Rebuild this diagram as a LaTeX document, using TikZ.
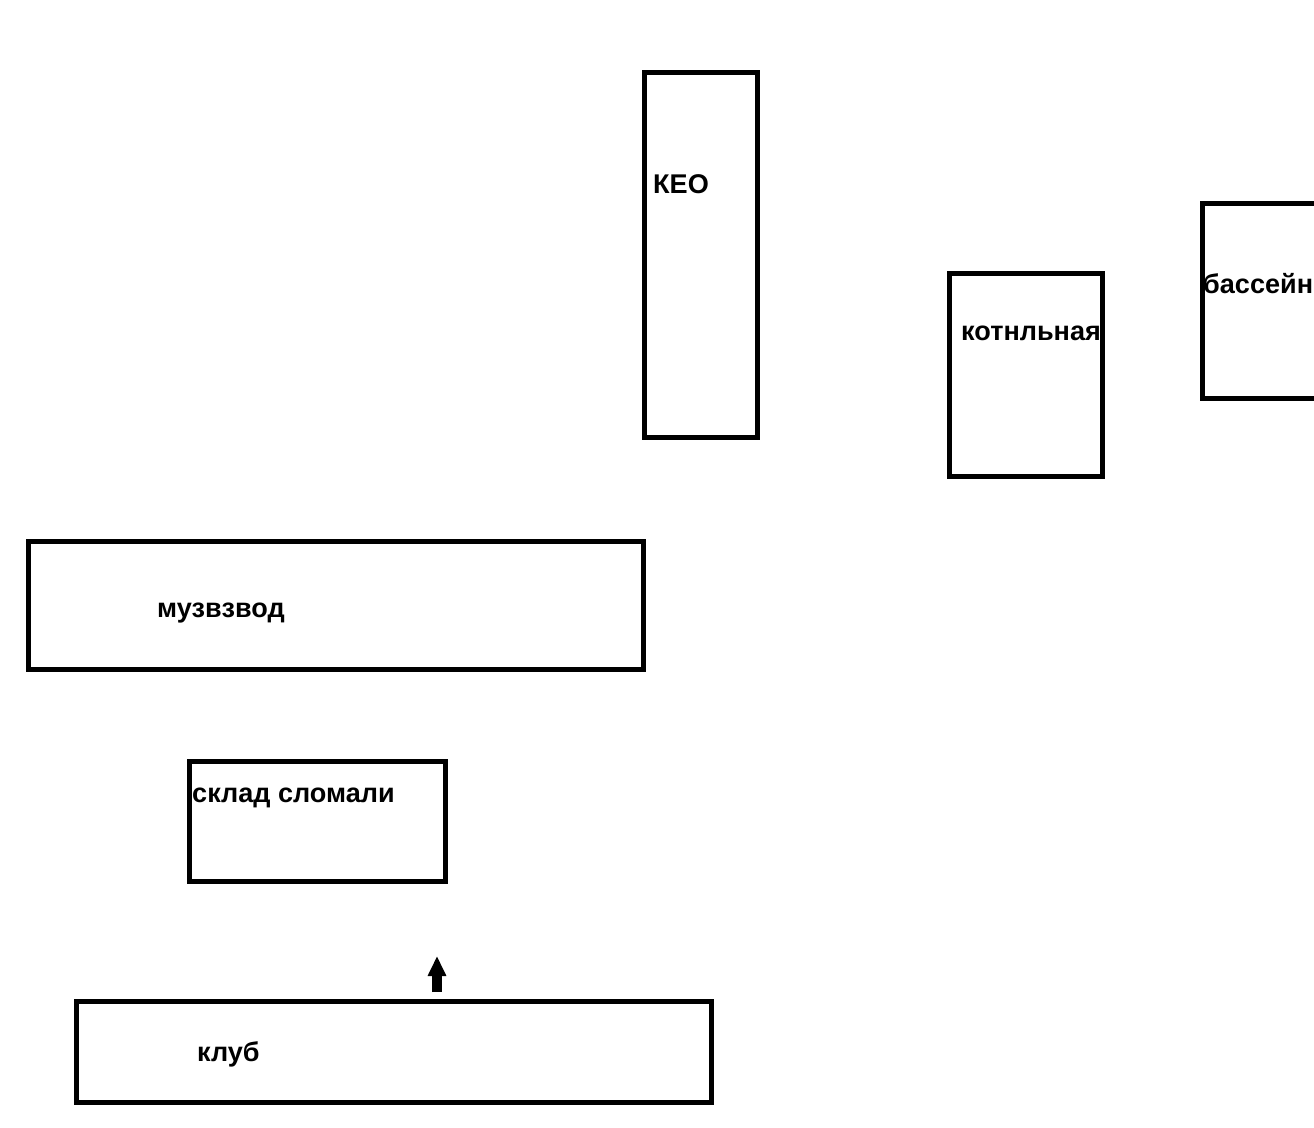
\documentclass[tikz,border=0pt]{standalone}
\usepackage{fontspec}
\setmainfont{Liberation Sans}
\usetikzlibrary{arrows.meta}

\tikzset{every picture/.style={line width=3.3pt}}
\tikzset{lbl/.style={anchor=west,inner sep=0.75pt,font=\bfseries\fontsize{20.3}{24}\selectfont}}

\begin{document}
\begin{tikzpicture}[x=0.75pt,y=0.75pt,yscale=-1,xscale=1]
\useasboundingbox (0,0) rectangle (1314,1128);
\clip (0,0) rectangle (1314,1128);

%Shape: Rectangle [id:keo]
\draw   (644.5,72.5) -- (757.5,72.5) -- (757.5,437.5) -- (644.5,437.5) -- cycle ;
%Shape: Rectangle [id:kotln]
\draw   (949.5,273.5) -- (1102.5,273.5) -- (1102.5,476.5) -- (949.5,476.5) -- cycle ;
%Shape: Rectangle [id:bass]
\draw   (1202.5,203.5) -- (1340,203.5) -- (1340,398.5) -- (1202.5,398.5) -- cycle ;
%Shape: Rectangle [id:muz]
\draw   (28.5,541.5) -- (643.5,541.5) -- (643.5,669.5) -- (28.5,669.5) -- cycle ;
%Shape: Rectangle [id:sklad]
\draw   (189.5,761.5) -- (445.5,761.5) -- (445.5,881.5) -- (189.5,881.5) -- cycle ;
%Shape: Rectangle [id:klub]
\draw   (76.5,1001.5) -- (711.5,1001.5) -- (711.5,1102.5) -- (76.5,1102.5) -- cycle ;

%Straight Lines [id:arr]
\coordinate (arrS) at (437,992);
\coordinate (arrE) at (437,956);
\draw [line width=7pt,-{Triangle[length=15pt,width=13pt]}]  (arrS) -- (arrE) ;

% Text Node
\draw (650,184) node [lbl] (keoT)   {КЕО};
% Text Node
\draw (958,333) node [lbl] (kotT)   {котнльная};
% Text Node
\draw (1200,284) node [lbl] (bassT)   {бассейн};
% Text Node
\draw (154,613) node [lbl] (muzT)   {музвзвод};
% Text Node
\draw (189,798) node [lbl] (skladT)   {склад сломали};
% Text Node
\draw (194,1054) node [lbl] (klubT)   {клуб};

\end{tikzpicture}
\end{document}
